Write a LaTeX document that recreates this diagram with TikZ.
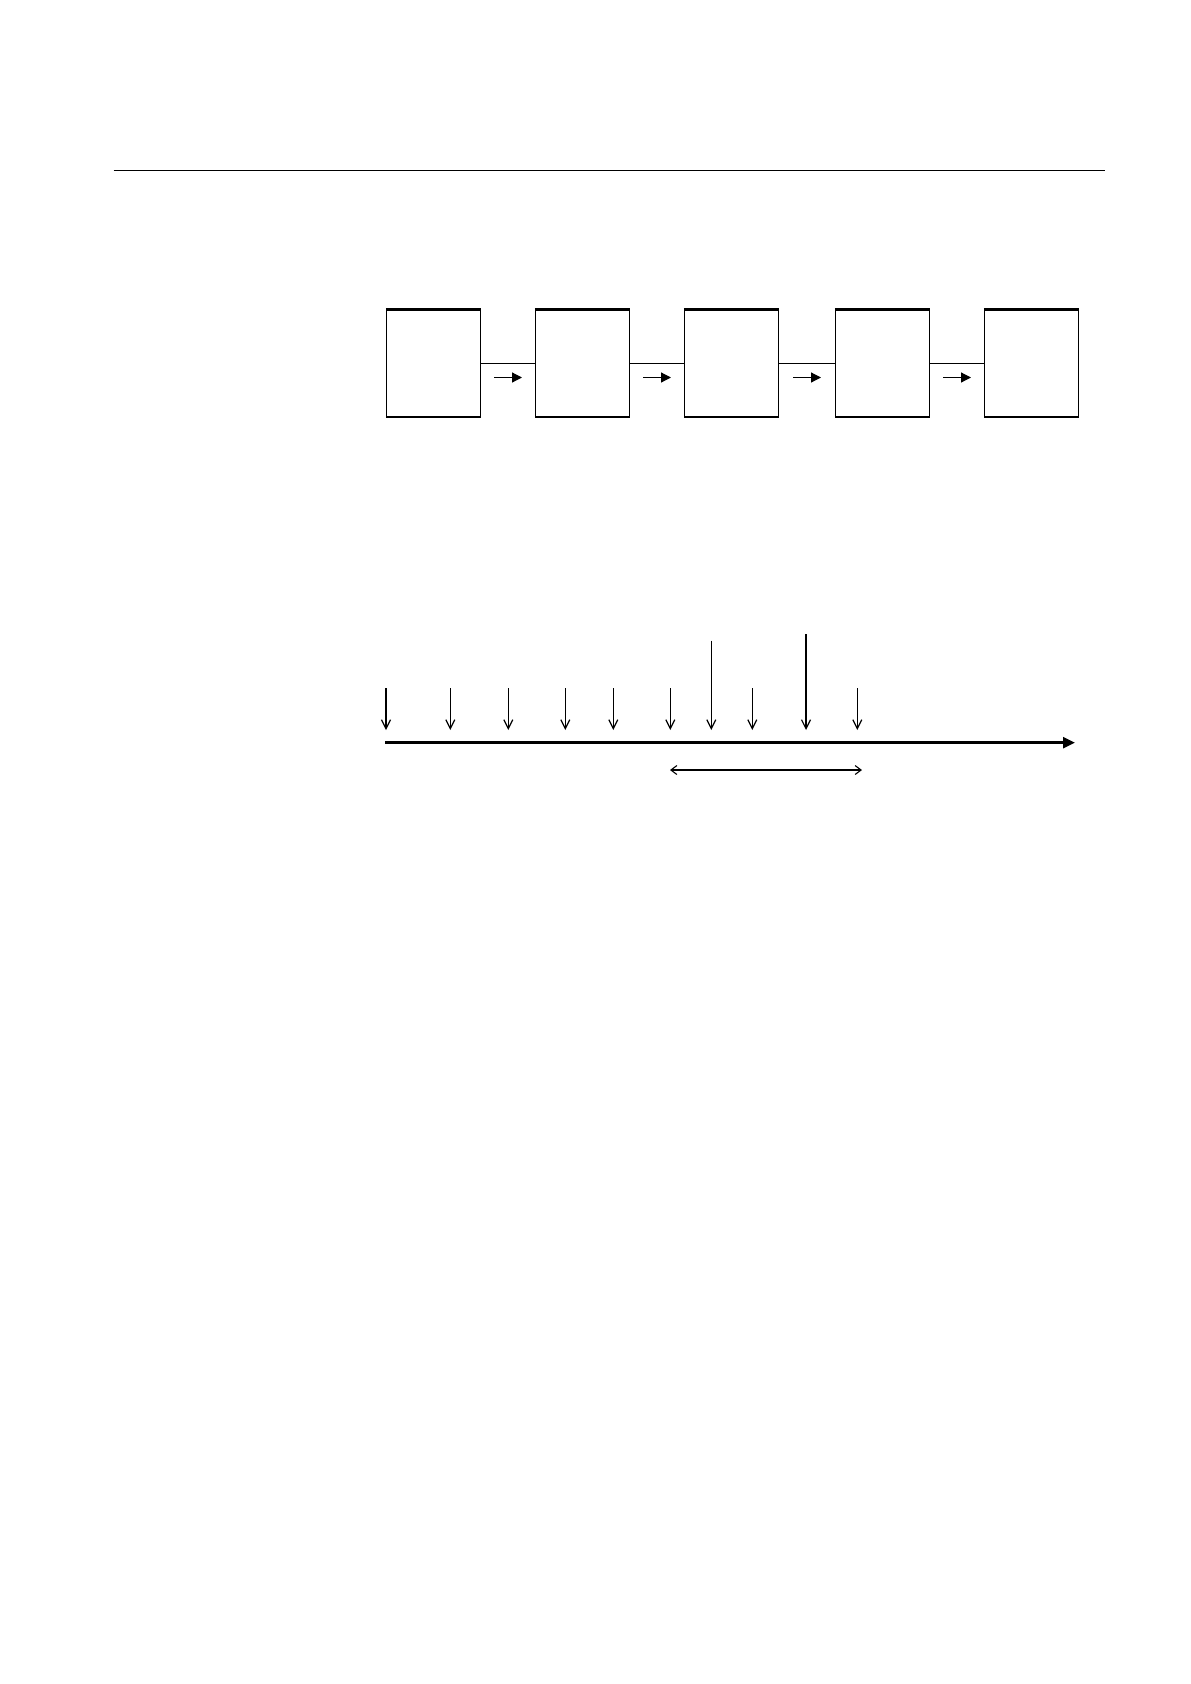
\documentclass[tikz,border=0pt]{standalone}
\usetikzlibrary{arrows.meta}
\begin{document}
\begin{tikzpicture}[x=1pt,y=-1pt,
  box/.style={draw,line width=1.2pt,minimum width=94pt,minimum height=108pt,inner sep=0pt,outer sep=0pt,anchor=north west},
  topedge/.style={line width=3pt},
  link/.style={line width=1pt},
  flowarrow/.style={line width=1.2pt,-{Triangle[length=10pt,width=10pt]}},
  axisarrow/.style={line width=2.6pt,-{Triangle[length=12pt,width=11pt]}},
  event/.style={line width=1.2pt,-{Straight Barb[length=9pt,width=9pt]}},
  span/.style={line width=1.1pt,{Straight Barb[length=6pt,width=9pt]}-{Straight Barb[length=6pt,width=9pt]}},
  rule/.style={line width=1.3pt}]
\useasboundingbox (0,0) rectangle (1191,1684);
% header rule
\coordinate (r1) at (113.5,170.3);
\coordinate (r2) at (1105.3,170.3);
\draw[rule] (r1) -- (r2);
% boxes
\node[box] (b1) at (386.5,309) {};
\node[box] (b2) at (535.5,309) {};
\node[box] (b3) at (684.5,309) {};
\node[box] (b4) at (835.5,309) {};
\node[box] (b5) at (984.5,309) {};
\foreach \b in {b1,b2,b3,b4,b5}{
  \draw[topedge] ([xshift=-0.6pt,yshift=-0.6pt]\b.north west) -- ([xshift=0.6pt,yshift=-0.6pt]\b.north east);
}
\draw[link] (b1.east) -- (b2.west);
\draw[link] (b2.east) -- (b3.west);
\draw[link] (b3.east) -- (b4.west);
\draw[link] (b4.east) -- (b5.west);
% small flow arrows
\coordinate (f1s) at (494,377.5); \coordinate (f1e) at (522,377.5);
\coordinate (f2s) at (643,377.5); \coordinate (f2e) at (671,377.5);
\coordinate (f3s) at (793,377.5); \coordinate (f3e) at (821,377.5);
\coordinate (f4s) at (943,377.5); \coordinate (f4e) at (971,377.5);
\draw[flowarrow] (f1s) -- (f1e);
\draw[flowarrow] (f2s) -- (f2e);
\draw[flowarrow] (f3s) -- (f3e);
\draw[flowarrow] (f4s) -- (f4e);
% time axis
\coordinate (a0) at (385,742.7);
\coordinate (a1) at (1075,742.7);
\draw[axisarrow] (a0) -- (a1);
% event arrows
\foreach \i/\x/\t in {1/386/688,2/450.3/688,3/508.3/688,4/565.3/688,5/613.3/688,6/670.3/688,7/711.3/640.7,8/752.3/688,9/806/634,10/857.3/688}{
  \coordinate (e\i t) at (\x,\t);
  \coordinate (e\i b) at (\x,730);
  \draw[event] (e\i t) -- (e\i b);
}
% span arrow
\coordinate (s0) at (670,770);
\coordinate (s1) at (862,770);
\draw[span] (s0) -- (s1);
\end{tikzpicture}
\end{document}
